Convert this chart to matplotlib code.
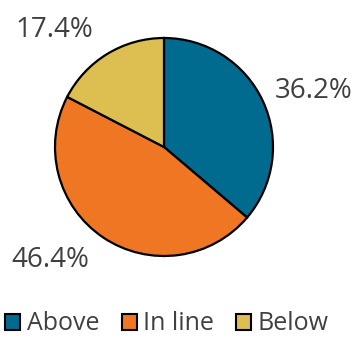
import matplotlib.pyplot as plt
from matplotlib.patches import Patch

plt.rcParams['font.family'] = ['Open Sans', 'DejaVu Sans']

categories = ['Above', 'In line', 'Below']
shares = [36.2, 46.4, 17.4]
colors = ['#006a8f', '#ef7622', '#dcbf50']
text_color = '#404040'

W, H = 356, 338
fig = plt.figure(figsize=(W / 100, H / 100), dpi=100)

# pie centred at (164, 147) px with radius ~109 px
cx, cy, r = 164, 147, 109
ax = fig.add_axes([(cx - r) / W, 1 - (cy + r) / H, 2 * r / W, 2 * r / H])
ax.pie(shares, colors=colors, startangle=90, counterclock=False,
       wedgeprops=dict(edgecolor='black', linewidth=1.6), radius=1, frame=False)
ax.set_xlim(-1.0, 1.0)
ax.set_ylim(-1.0, 1.0)
ax.set_aspect('equal')
ax.axis('off')

# percentage labels outside the slices (pixel positions)
label_pos = [(314, 91), (50, 260), (54, 30)]
for val, (x, y) in zip(shares, label_pos):
    fig.text(x / W, 1 - y / H, f'{val:.1f}%', ha='center', va='center',
             fontsize=20, color=text_color)

handles = [Patch(facecolor=c, edgecolor='black', linewidth=1.5) for c in colors]
fig.legend(handles, categories, loc='center', bbox_to_anchor=(167 / W, 1 - 324 / H),
           ncol=3, frameon=False, fontsize=18, labelcolor=text_color,
           handlelength=0.6, handleheight=0.6, handletextpad=0.25,
           columnspacing=0.9, borderpad=0)

fig.savefig('out.png', dpi=100)
